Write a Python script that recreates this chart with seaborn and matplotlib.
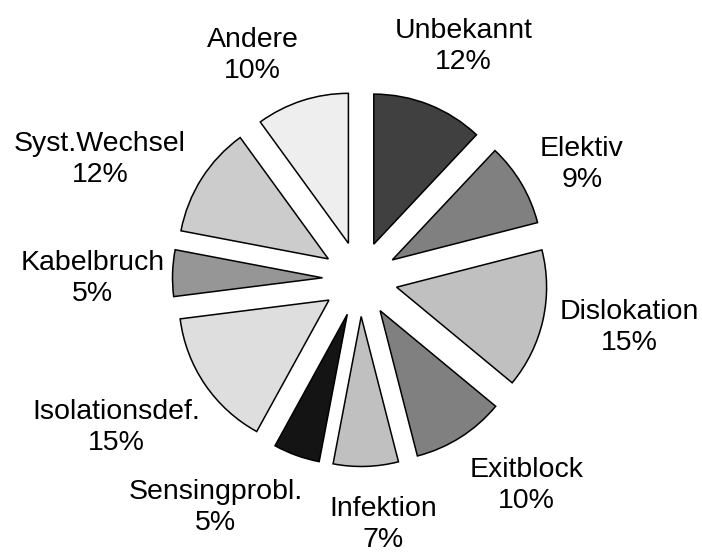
import numpy as np
import seaborn as sns
import matplotlib.pyplot as plt

# Daten: Ursachen, Anteile in Prozent
ursachen = ['Unbekannt', 'Elektiv', 'Dislokation', 'Exitblock', 'Infektion',
            'Sensingprobl.', 'Isolationsdef.', 'Kabelbruch', 'Syst.Wechsel', 'Andere']
anteile = [12, 9, 15, 10, 7, 5, 15, 5, 12, 10]
farben = ['#404040', '#808080', '#c0c0c0', '#808080', '#c0c0c0',
          '#141414', '#dedede', '#969696', '#cccccc', '#eeeeee']

# kleine Verschiebungen der Beschriftungen (Pixel, x rechts / y oben),
# damit sie wie im Excel-Original liegen und sich nicht ueberlappen
nudge = {'Unbekannt': (10, -4), 'Elektiv': (4, -14), 'Dislokation': (-1, 12),
         'Exitblock': (29, 11), 'Infektion': (16, -13), 'Sensingprobl.': (-57, 15),
         'Isolationsdef.': (-6, 13), 'Kabelbruch': (8, -8), 'Syst.Wechsel': (-15, -36),
         'Andere': (-32, -8)}

sns.set_theme(style='white')
plt.rcParams['font.family'] = ['Liberation Sans', 'DejaVu Sans']

fig = plt.figure(figsize=(7.02, 5.56), dpi=100)
ax = fig.add_axes([0, 0, 1, 1])

wedges, _ = ax.pie(anteile, colors=farben, startangle=90, counterclock=False,
                   explode=[0.25] * len(anteile),
                   wedgeprops=dict(edgecolor='black', linewidth=1.1))

# 1 Einheit = 150 px, Mittelpunkt bei (360, 279) px
ax.set_aspect('equal')
ax.set_xlim(-360 / 150, (702 - 360) / 150)
ax.set_ylim(-(556 - 279) / 150, 279 / 150)
ax.axis('off')

# Beschriftung: Textbox radial ausserhalb des Segments
fig.canvas.draw()
renderer = fig.canvas.get_renderer()
for w, name, p in zip(wedges, ursachen, anteile):
    ang = np.deg2rad((w.theta1 + w.theta2) / 2)
    c, s = np.cos(ang), np.sin(ang)
    cx, cy = w.center
    x = cx + 1.10 * w.r * c
    y = cy + 1.10 * w.r * s
    txt = f'{name}\n{p}%'
    kw = dict(fontsize=20.5, ha='center', va='center', multialignment='center',
              linespacing=1.25, color='black')
    t = ax.text(x, y, txt, **kw)
    bb = t.get_window_extent(renderer)
    t.remove()
    proj = abs(bb.width / 2 * c) + abs(bb.height / 2 * s)
    dx, dy = nudge[name]
    ax.annotate(txt, xy=(x, y), xytext=(proj * c + dx, proj * s + dy),
                textcoords='offset pixels', **kw)

fig.savefig('out.png', dpi=100)
